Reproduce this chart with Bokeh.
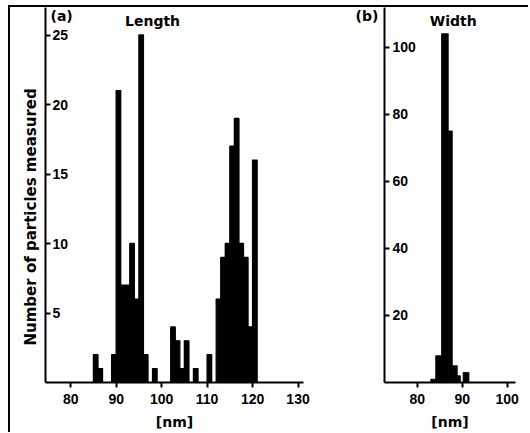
from bokeh.plotting import figure
from bokeh.layouts import row
from bokeh.models import FixedTicker, Label, Range1d, Title
from bokeh.embed import file_html
from bokeh.resources import INLINE
from bokeh.core.properties import value

# ---------------- data ----------------
length_bin_left = [85, 86, 89, 90, 91, 92, 93, 94, 95, 96, 98,
                   102, 103, 104, 105, 107, 110,
                   112, 113, 114, 115, 116, 117, 118, 119, 120]
length_counts = [2, 1, 2, 21, 7, 7, 10, 6, 25, 2, 1,
                 4, 3, 1, 3, 1, 2,
                 6, 9, 10, 17, 19, 10, 9, 4, 16]

width_bin_left = [83.0, 84.1, 85.4, 86.9, 87.8, 88.9, 90.2]
width_bin_right = [84.1, 85.4, 86.9, 87.8, 88.9, 89.6, 91.5]
width_counts = [1, 8, 104, 75, 5, 2, 3]

length_xticks = [80, 90, 100, 110, 120, 130]
length_yticks = [5, 10, 15, 20, 25]
width_xticks = [80, 90, 100]
width_yticks = [20, 40, 60, 80, 100]

y_label_text = "Number of particles measured"
x_label_text = "[nm]"

# ---------------- styling ----------------
FONT_W = "DejaVu Sans"
FONT_N = "Liberation Sans"
H = 425
A_X = (74.46, 131.2)
A_Y = (0, 26.98)
B_X = (72.73, 101.84)
B_Y = (0, 111.8)


def make_fig(width, xr, yr, b_left, b_right, xticks, yticks, lab_off):
    p = figure(width=width, height=H,
               x_range=Range1d(*xr), y_range=Range1d(*yr),
               output_backend="svg", toolbar_location=None,
               min_border_left=b_left, min_border_right=b_right,
               min_border_top=0, min_border_bottom=50)
    p.grid.visible = False
    p.outline_line_color = None
    p.background_fill_color = "white"
    p.border_fill_color = "white"

    xa = p.xaxis[0]
    xa.ticker = FixedTicker(ticks=xticks)
    xa.axis_line_width = 2
    xa.major_tick_line_width = 2
    xa.major_tick_in = 0
    xa.major_tick_out = 5
    xa.minor_tick_line_color = None
    xa.major_label_standoff = 6
    xa.major_label_text_font = FONT_N
    xa.major_label_text_font_style = "bold"
    xa.major_label_text_font_size = "14px"
    xa.major_label_text_color = "black"
    xa.axis_label = x_label_text
    xa.axis_label_standoff = 7
    xa.axis_label_text_font = FONT_W
    xa.axis_label_text_font_style = "bold"
    xa.axis_label_text_font_size = "14px"
    xa.axis_label_text_color = "black"

    ya = p.yaxis[0]
    ya.ticker = FixedTicker(ticks=yticks)
    ya.axis_line_width = 2
    ya.major_tick_line_width = 2
    ya.major_tick_in = 5
    ya.major_tick_out = 0
    ya.minor_tick_line_color = None
    ya.major_label_standoff = 0
    ya.major_label_overrides = {t: "" for t in yticks}

    # tick labels sit inside the frame, to the right of the axis
    p.text(x=[xr[0]] * len(yticks), y=yticks, text=[str(t) for t in yticks],
           x_offset=lab_off, text_align="left", text_baseline="middle",
           text_font=value(FONT_N), text_font_style="bold",
           text_font_size="14px", text_color="black")
    return p


# ---------------- panel (a): Length ----------------
pa = make_fig(330, A_X, A_Y, 35, 37, length_xticks, length_yticks, 7)
pa.quad(left=length_bin_left, right=[l + 1 for l in length_bin_left],
        bottom=0, top=length_counts,
        fill_color="black", line_color="black", line_width=1.3)
pa.add_layout(Label(x=A_X[0], y=A_Y[1], text="(a)", x_offset=5, y_offset=0,
                    text_align="left", text_baseline="top",
                    text_font=FONT_W, text_font_style="bold",
                    text_font_size="14px", text_color="black"))
pa.add_layout(Label(x=98, y=A_Y[1], text="Length", y_offset=-5,
                    text_align="center", text_baseline="top",
                    text_font=FONT_W, text_font_style="bold",
                    text_font_size="14px", text_color="black"))
pa.add_layout(Title(text=y_label_text, align="left", offset=37, standoff=12,
                    text_font=FONT_W, text_font_style="bold",
                    text_font_size="15px", text_color="black"), "left")

# ---------------- spacer holding the "(b)" tag ----------------
pc = figure(width=40, height=H, x_range=Range1d(0, 1), y_range=Range1d(0, 1),
            output_backend="svg", toolbar_location=None,
            x_axis_location=None, y_axis_location=None, min_border=0)
pc.grid.visible = False
pc.outline_line_color = None
pc.add_layout(Label(x=0, y=1, text="(b)", x_offset=15, y_offset=0,
                    text_align="left", text_baseline="top",
                    text_font=FONT_W, text_font_style="bold",
                    text_font_size="14px", text_color="black"))

# ---------------- panel (b): Width ----------------
pb = make_fig(148, B_X, B_Y, 4, 13, width_xticks, width_yticks, 8)
pb.quad(left=width_bin_left, right=width_bin_right,
        bottom=0, top=width_counts,
        fill_color="black", line_color="black", line_width=0.8)
pb.add_layout(Label(x=88, y=B_Y[1], text="Width", y_offset=-5,
                    text_align="center", text_baseline="top",
                    text_font=FONT_W, text_font_style="bold",
                    text_font_size="14px", text_color="black"))

layout = row(pa, pc, pb, margin=(5, 0, 0, 8),
             styles={"border-left": "2px solid black",
                     "border-top": "2px solid black"})

open("out.html", "w").write(file_html(layout, INLINE))
